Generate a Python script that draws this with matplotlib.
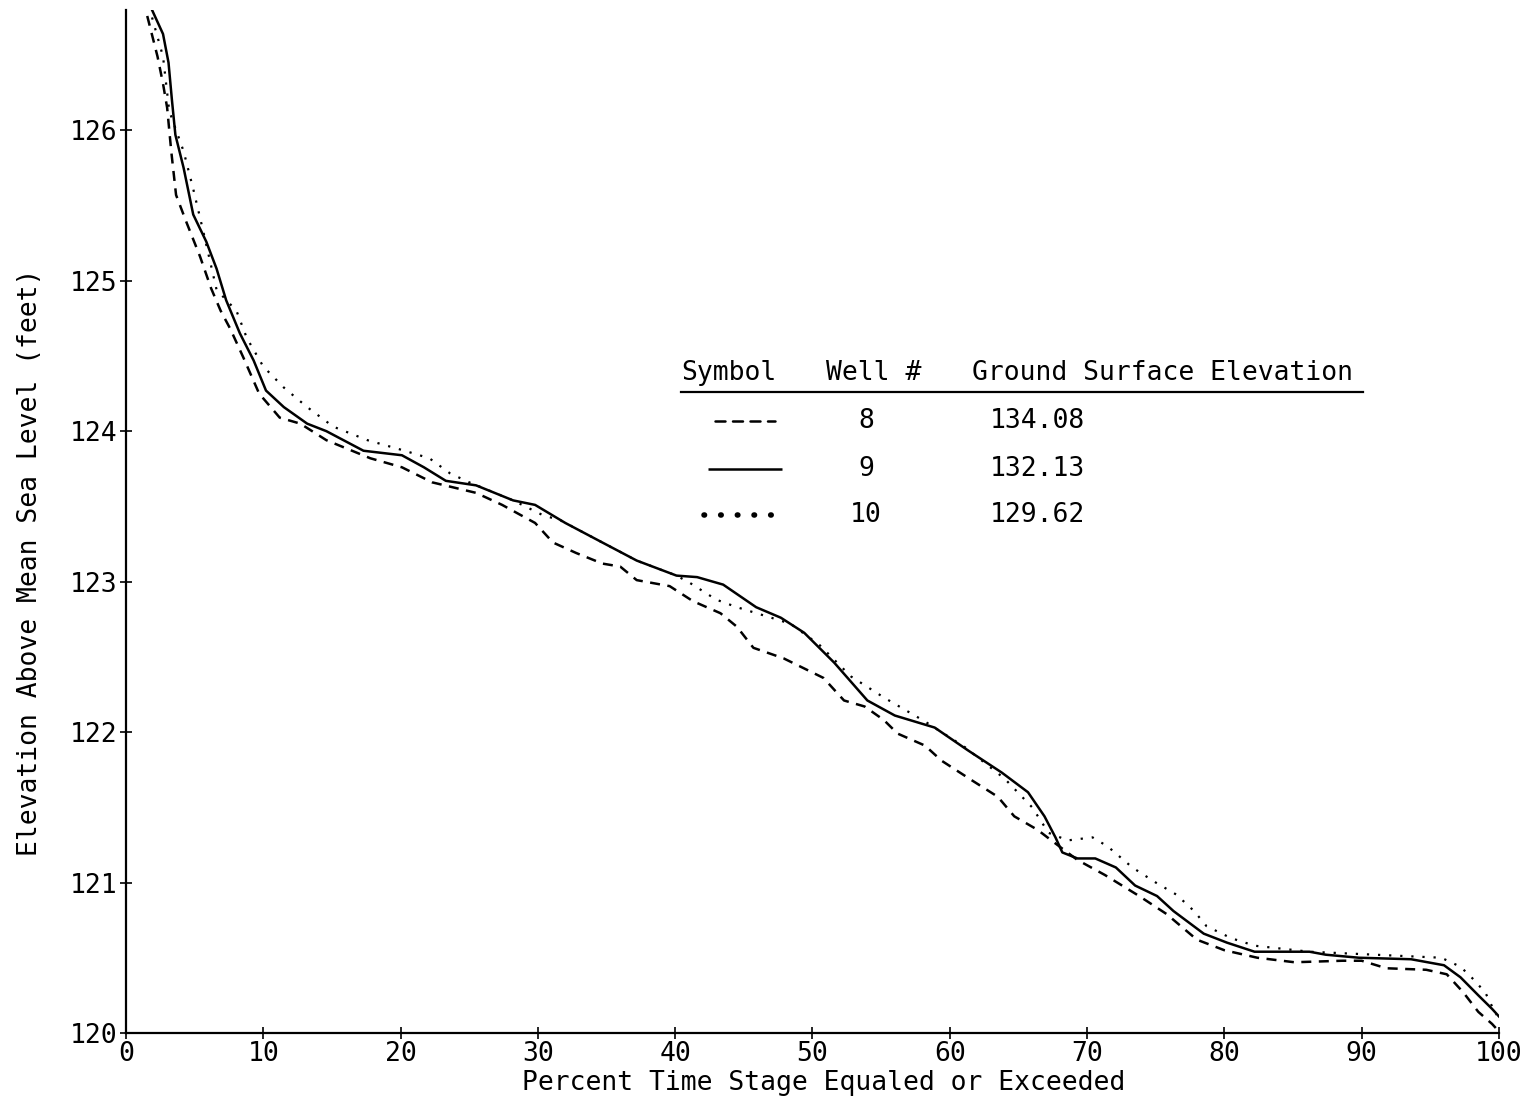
import matplotlib
matplotlib.use('Agg')
import matplotlib.pyplot as plt

# ── data (percent time, elevation ft) ──
well9_x = [1.9, 2.7, 3.1, 3.35, 3.6, 4.2, 4.9, 5.85, 6.6, 7.3, 8.3, 9.3, 10.2, 11.5,
           13.2, 14.6, 17.3, 20.1, 21.7, 23.3, 25.5, 28.2, 29.8, 32.0, 34.7, 37.2,
           40.1, 41.6, 43.5, 45.9, 47.7, 49.4, 51.6, 54.0, 56.0, 58.9, 61.3, 63.8,
           65.7, 66.9, 67.7, 68.2, 69.3, 70.6, 72.1, 73.5, 75.1, 76.3, 78.5, 80.2,
           82.2, 86.2, 87.4, 89.8, 93.6, 96.0, 97.2, 98.5, 99.5, 100.0]
well9_y = [126.80, 126.64, 126.45, 126.2, 125.97, 125.75, 125.44, 125.26, 125.08,
           124.87, 124.65, 124.47, 124.27, 124.16, 124.05, 124.0, 123.87, 123.84,
           123.76, 123.67, 123.64, 123.54, 123.51, 123.39, 123.26, 123.14, 123.04,
           123.03, 122.98, 122.83, 122.76, 122.66, 122.46, 122.21, 122.11, 122.03,
           121.88, 121.73, 121.60, 121.44, 121.30, 121.20, 121.16, 121.16, 121.10,
           120.98, 120.91, 120.81, 120.66, 120.60, 120.54, 120.54, 120.52, 120.50,
           120.49, 120.45, 120.37, 120.25, 120.16, 120.11]

well8_x = [1.55, 2.3, 2.7, 3.0, 3.3, 3.65, 4.4, 5.4, 6.2, 6.9, 7.6, 8.55, 9.7, 11.2,
           12.7, 14.6, 17.8, 20.1, 22.3, 25.5, 27.4, 29.8, 31.1, 32.8, 34.7, 36.0,
           37.2, 39.6, 41.3, 43.3, 44.5, 45.7, 47.9, 50.8, 52.3, 53.8, 55.2, 56.2,
           58.2, 59.4, 61.6, 63.5, 64.7, 66.4, 67.4, 69.3, 71.3, 73.8, 75.8, 78.0,
           80.0, 82.4, 85.1, 88.6, 90.0, 91.8, 94.7, 96.2, 97.4, 98.5, 99.5, 100.0]
well8_y = [126.76, 126.49, 126.31, 126.15, 125.86, 125.57, 125.39, 125.16, 124.95,
           124.80, 124.68, 124.49, 124.25, 124.09, 124.05, 123.94, 123.82, 123.76,
           123.66, 123.59, 123.51, 123.39, 123.26, 123.19, 123.12, 123.10, 123.01,
           122.97, 122.87, 122.79, 122.70, 122.56, 122.49, 122.36, 122.21, 122.17,
           122.08, 121.99, 121.91, 121.81, 121.68, 121.57, 121.44, 121.35, 121.28,
           121.15, 121.05, 120.91, 120.79, 120.62, 120.55, 120.50, 120.47, 120.48,
           120.48, 120.43, 120.42, 120.39, 120.27, 120.14, 120.06, 120.01]

well10_x = [1.9, 2.7, 3.15, 4.2, 4.9, 5.6, 6.6, 8.05, 8.8, 10.0, 11.5, 13.2, 15.1,
            17.6, 20.3, 22.1, 23.6, 25.0, 28.2, 30.4, 31.6, 34.7, 37.2, 40.1, 41.1,
            43.0, 44.5, 47.0, 48.4, 50.5, 52.8, 55.2, 58.2, 61.1, 64.0, 66.0, 67.2,
            68.6, 70.4, 71.5, 73.3, 75.0, 76.5, 77.8, 78.7, 80.5, 82.2, 86.2, 91.0,
            95.8, 97.2, 98.0, 99.0, 99.8]
well10_y = [126.75, 126.49, 126.13, 125.86, 125.61, 125.34, 124.94, 124.80, 124.62,
            124.43, 124.29, 124.16, 124.03, 123.94, 123.87, 123.82, 123.72, 123.66,
            123.54, 123.44, 123.41, 123.26, 123.14, 123.04, 122.99, 122.88, 122.83,
            122.76, 122.72, 122.58, 122.37, 122.23, 122.07, 121.90, 121.69, 121.50,
            121.33, 121.28, 121.30, 121.24, 121.10, 121.0, 120.92, 120.81, 120.71,
            120.63, 120.58, 120.54, 120.52, 120.50, 120.44, 120.37, 120.27, 120.12]

well_ids = ['8', '9', '10']
ground_elev = ['134.08', '132.13', '129.62']

x_ticks = list(range(0, 101, 10))
y_ticks = [120, 121, 122, 123, 124, 125, 126]

FONT = 'DejaVu Sans Mono'
plt.rcParams['font.family'] = FONT

fig = plt.figure(figsize=(15.23, 11.05), dpi=100)
ax = fig.add_axes([0.0827, 0.0652, 0.9015, 0.9258])

ax.plot(well8_x, well8_y, color='black', lw=1.8, linestyle=(0, (4, 3)))
ax.plot(well9_x, well9_y, color='black', lw=1.8, linestyle='-')
ax.plot(well10_x, well10_y, color='black', lw=1.6, linestyle=(0, (1, 4)))

ax.set_xlim(0, 100)
ax.set_ylim(120, 126.8)
ax.set_xticks(x_ticks)
ax.set_yticks(y_ticks)
ax.tick_params(direction='inout', length=8, width=1.2, labelsize=19, pad=2)
for side in ('top', 'right'):
    ax.spines[side].set_visible(False)
for side in ('left', 'bottom'):
    ax.spines[side].set_linewidth(1.6)

ax.set_xlabel('Percent Time Stage Equaled or Exceeded', fontsize=19)
ax.set_ylabel('Elevation Above Mean Sea Level (feet)', fontsize=19,
              ha='center', va='center')
ax.xaxis.set_label_coords(0.508, -0.036)
ax.yaxis.set_label_coords(-0.070, 0.46)

# ── legend drawn as a small table ──
fs = 19
ax.text(40.45, 124.39, 'Symbol', fontsize=fs, va='center', ha='left')
ax.text(51.0, 124.39, 'Well #', fontsize=fs, va='center', ha='left')
ax.text(61.6, 124.39, 'Ground Surface Elevation', fontsize=fs, va='center', ha='left')
ax.plot([40.45, 90.1], [124.26, 124.26], color='black', lw=1.6)

row_y = [124.07, 123.75, 123.44]
styles = [dict(linestyle=(0, (4, 3)), lw=1.8, x=[42.9, 47.3]),
          dict(linestyle='-', lw=1.8, x=[42.4, 47.8]),
          dict(linestyle=(0, (0.1, 2.9)), lw=4, x=[42.1, 47.3])]
for yy, wid, elev, st in zip(row_y, well_ids, ground_elev, styles):
    ax.plot(st['x'], [yy, yy], color='black', lw=st['lw'],
            linestyle=st['linestyle'], dash_capstyle='round', solid_capstyle='butt')
    ax.text(53.9, yy, wid, fontsize=fs, va='center', ha='center')
    ax.text(62.9, yy, elev, fontsize=fs, va='center', ha='left')

fig.savefig('out.png', dpi=100, facecolor='white')
